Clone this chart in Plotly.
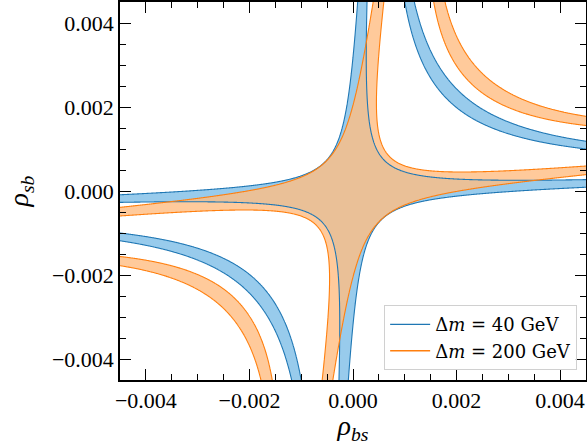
import numpy as np
import plotly.graph_objects as go

# ---- values ----
labels = ["Δ<i>m</i> = 40 GeV", "Δ<i>m</i> = 200 GeV"]
line_colors = ["#1f77b4", "#ff7f0e"]
fill_colors = ["rgba(83,168,223,0.6)", "rgba(255,189,130,0.8)"]
tilt = [0.04, 0.108]          # ratio of the diagonal term to the cross term
scale = [2.03e-6, 2.51e-6]    # rho_bs*rho_sb that gives a ratio of 1
tol = [0.20, 0.18]            # allowed half-width of the ratio
branches = [0.0, 2.0]         # allowed ratio centres
x_range = [-0.0045, 0.0045]
y_range = [-0.0045, 0.0045]
tick_vals = [-0.004, -0.002, 0.0, 0.002, 0.004]
minor_step = 0.0005
n_grid = 601

xs = np.linspace(x_range[0], x_range[1], n_grid)
ys = np.linspace(y_range[0], y_range[1], n_grid)
X, Y = np.meshgrid(xs, ys)

fig = go.Figure()
fields = []
for a, s in zip(tilt, scale):
    r = (X * Y - a * (X**2 + Y**2)) / s
    z = np.min(np.stack([np.abs(r - b) for b in branches]), axis=0)
    fields.append(z.astype(np.float32))

# filled allowed regions
for z, d, fc in zip(fields, tol, fill_colors):
    fig.add_trace(go.Contour(
        x=xs, y=ys, z=z,
        contours=dict(type="constraint", operation=">", value=d),
        fillcolor=fc, line=dict(width=0), showscale=False,
        hoverinfo="skip", showlegend=False))

# boundary lines on top
for z, d, lc in zip(fields, tol, line_colors):
    fig.add_trace(go.Contour(
        x=xs, y=ys, z=z,
        contours=dict(start=d, end=d, size=1, coloring="none"),
        line=dict(color=lc, width=1.1), showscale=False,
        hoverinfo="skip", showlegend=False))

# legend entries
for lab, lc in zip(labels, line_colors):
    fig.add_trace(go.Scatter(x=[None], y=[None], mode="lines",
                             line=dict(color=lc, width=1.3), name=lab))

font_family = "Liberation Serif"
axis_common = dict(
    showline=True, linecolor="black", linewidth=1.5, mirror="allticks",
    ticks="inside", ticklen=11, tickwidth=1.3, tickcolor="black",
    tickvals=tick_vals, tickformat=".3f", automargin=False,
    minor=dict(ticks="inside", ticklen=6, tickwidth=1.1, tickcolor="black", dtick=minor_step),
    showgrid=False, zeroline=False,
    tickfont=dict(family=font_family, size=22, color="black"),
)

fig.update_layout(
    width=587, height=445,
    margin=dict(l=120, r=1, t=2, b=65),
    plot_bgcolor="white", paper_bgcolor="white",
    xaxis=dict(range=x_range, title=dict(text="<i>ρ</i><sub><i>bs</i></sub>",
               font=dict(family=font_family, size=28, color="black"), standoff=3),
               **axis_common),
    yaxis=dict(range=y_range, title=dict(text="<i>ρ</i><sub><i>sb</i></sub>",
               font=dict(family=font_family, size=28, color="black"), standoff=15),
               **axis_common),
    legend=dict(x=0.981, y=0.026, xanchor="right", yanchor="bottom",
                bgcolor="rgba(255,255,255,0.85)", bordercolor="#d0d0d0", borderwidth=1,
                font=dict(family="DejaVu Serif", size=18, color="black"),
                tracegroupgap=0, itemwidth=40),
    showlegend=True,
)

fig.write_html("out.html", config={"displayModeBar": False},
               post_script="document.body.style.margin='0';document.body.style.padding='0';document.body.style.overflow='hidden';")
